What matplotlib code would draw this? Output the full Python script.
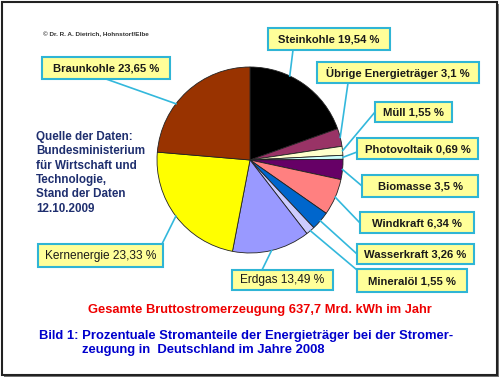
import numpy as np
import matplotlib
matplotlib.use('Agg')
import matplotlib.pyplot as plt
from matplotlib.patches import Rectangle

# Anteile der Energieträger 2008 (im Uhrzeigersinn ab 12 Uhr)
labels = ['Steinkohle', 'Übrige Energieträger', 'Müll', 'Photovoltaik', 'Biomasse',
          'Windkraft', 'Wasserkraft', 'Mineralöl', 'Erdgas', 'Kernenergie', 'Braunkohle']
anteile = [19.54, 3.1, 1.55, 0.69, 3.5, 6.34, 3.26, 1.55, 13.49, 23.33, 23.65]
anteil_text = ['19,54', '3,1', '1,55', '0,69', '3,5', '6,34', '3,26', '1,55', '13,49', '23,33', '23,65']
farben = ['#000000', '#993366', '#FFFFCC', '#CCFFFF', '#660066', '#FF8080',
          '#0066CC', '#CCCCFF', '#9999FF', '#FFFF00', '#993300']

# Layout: Kästen (x0, y0, x1, y1) in Pixel, Ankerpunkt der Linie am Kasten
kaesten = [(268, 28, 390, 50), (317, 62, 479, 83), (375, 102, 452, 122), (357, 138, 478, 159),
           (362, 175, 478, 197), (360, 212, 474, 233), (357, 244, 474, 264), (357, 269, 467, 292),
           (232, 270, 333, 290), (38, 244, 163, 267), (42, 57, 170, 79)]
anker = [(293, 50), (348, 83), (375, 112), (357, 152), (362, 186), (360, 223),
         (357, 254), (357, 270), (262, 270), (162, 244), (106, 79)]
# wo die Linie am Tortenstück ansetzt (Bruchteil des Winkels)
ansatz = [0.36, 0.5, 0.5, 0.5, 0.5, 0.5, 0.5, 0.5, 0.5, 0.5, 0.38]
fett = [True] * 8 + [False, False, True]

mitte = (250, 160)
radius = 93

fig = plt.figure(figsize=(5, 3.78), dpi=100)
ax = fig.add_axes([0, 0, 1, 1])

# Rahmen mit Schatten
ax.add_patch(Rectangle((4, 4), 495, 373, facecolor='#777777', edgecolor='none', zorder=0))
ax.add_patch(Rectangle((1.5, 1.5), 495, 373, facecolor='white', edgecolor='#222222', lw=1.5, zorder=0.5))

# y-Achse ist umgedreht -> startangle -90 und counterclock=True ergibt im Bild Uhrzeigersinn ab oben
wedges, _ = ax.pie(anteile, colors=farben, center=mitte, radius=radius, startangle=-90,
                   counterclock=True, frame=True,
                   wedgeprops=dict(edgecolor='#222222', linewidth=0.6))
ax.set_xlim(0, 500)
ax.set_ylim(378, 0)
ax.axis('off')

linie = '#33B8DC'
for i, w in enumerate(wedges):
    ang = np.deg2rad(w.theta1 + ansatz[i] * (w.theta2 - w.theta1))
    px = mitte[0] + radius * np.cos(ang)
    py = mitte[1] + radius * np.sin(ang)
    ax.plot([px, anker[i][0]], [py, anker[i][1]], color=linie, lw=1.2, zorder=3)
    x0, y0, x1, y1 = kaesten[i]
    ax.add_patch(Rectangle((x0, y0), x1 - x0, y1 - y0, facecolor='#FFFF99',
                           edgecolor='#2FB5D5', lw=1.5, zorder=4))
    ax.text((x0 + x1) / 2, (y0 + y1) / 2 + 0.5, f'{labels[i]} {anteil_text[i]} %',
            ha='center', va='center', fontsize=8.1 if fett[i] else 8.6,
            fontweight='bold' if fett[i] else 'normal',
            family='Liberation Sans', color='#1a1a1a', zorder=5)

ax.text(43, 34, '© Dr. R. A. Dietrich, Hohnstorf/Elbe', fontsize=4.6, fontweight='bold',
        family='Liberation Sans', color='#333333', va='center')

quelle = ['Quelle der Daten:', 'Bundesministerium', 'für Wirtschaft und',
          'Technologie,', 'Stand der Daten', '12.10.2009']
for k, z in enumerate(quelle):
    ax.text(36, 137 + k * 14.3, z, fontsize=8.4, fontweight='bold', family='Liberation Sans',
            color='#1F2F6F', va='center')

ax.text(260, 310, 'Gesamte Bruttostromerzeugung 637,7 Mrd. kWh im Jahr', ha='center', va='center',
        fontsize=9.3, fontweight='bold', family='Liberation Sans', color='#EE0000')
ax.text(39, 336, 'Bild 1: Prozentuale Stromanteile der Energieträger bei der Stromer-',
        va='center', fontsize=9.4, fontweight='bold', family='Liberation Sans', color='#0000CC')
ax.text(82, 350, 'zeugung in  Deutschland im Jahre 2008',
        va='center', fontsize=9.4, fontweight='bold', family='Liberation Sans', color='#0000CC')

fig.savefig('out.png', dpi=100)
